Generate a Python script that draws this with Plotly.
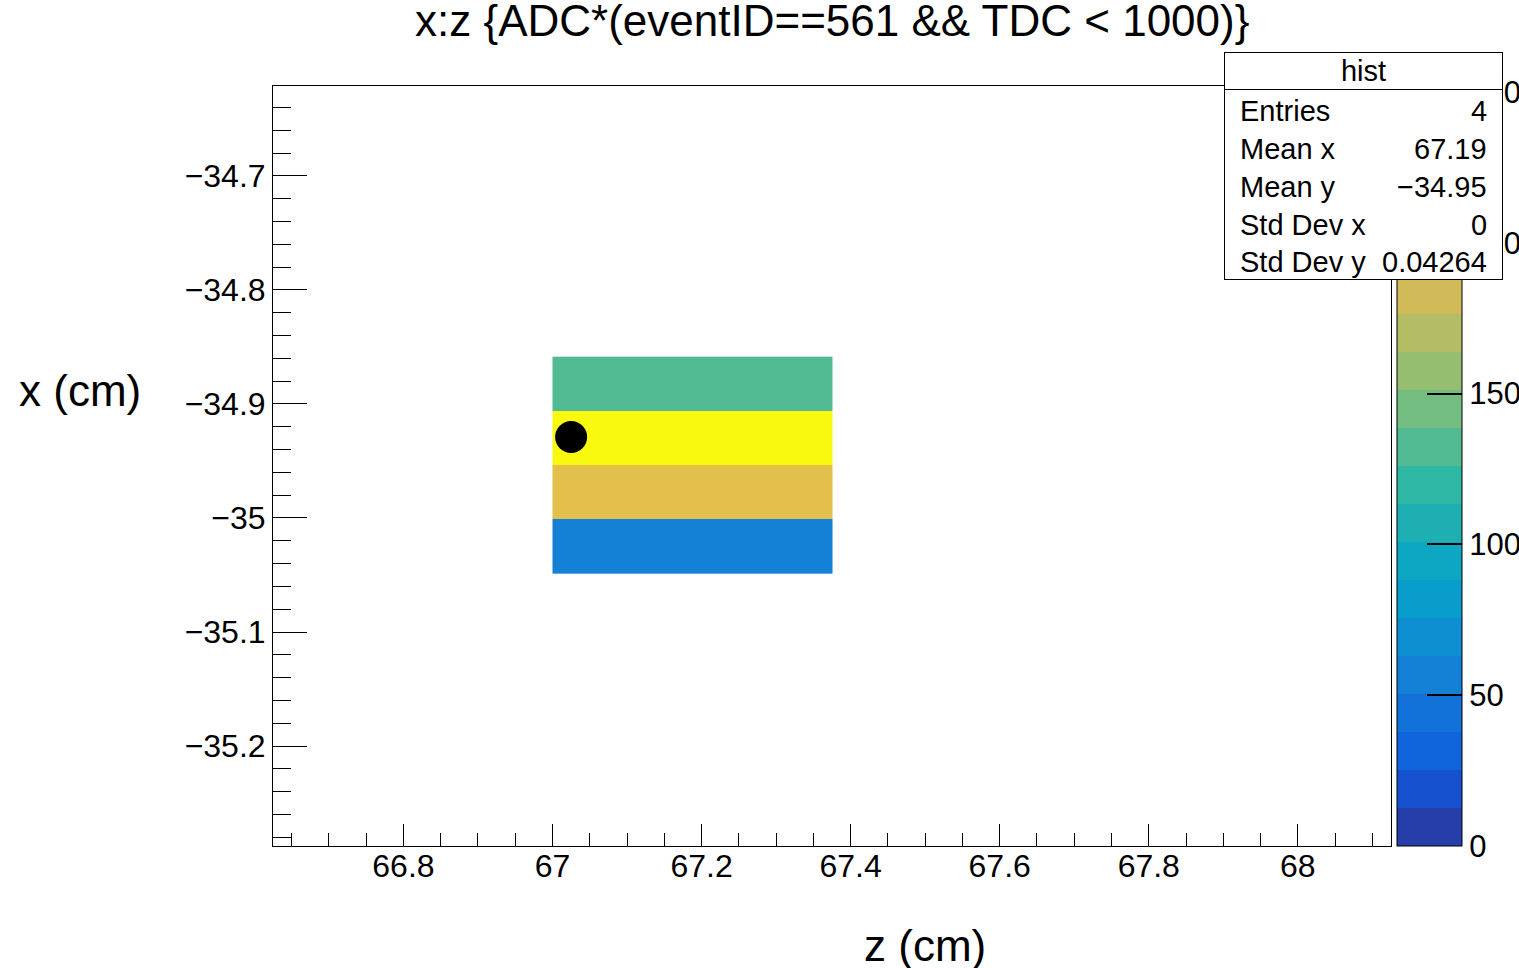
import plotly.graph_objects as go

# ---------------- data ----------------
x_edges = [67.0, 67.375]                                        # z (cm) bin edges
y_edges = [-35.0489, -35.0013, -34.9537, -34.9061, -34.8585]    # x (cm) bin edges
cell_values = [[57], [195], [252], [132]]                        # ADC sums (bottom -> top)
point_z = [67.025]
point_x = [-34.929]
z_min, z_max = 0, 252
n_levels = 20
cb_ticks = [0, 50, 100, 150, 200, 250]
stats_labels = ["Entries", "Mean x", "Mean y", "Std Dev x", "Std Dev y"]
stats_values = ["4", "67.19", "\u221234.95", "0", "0.04264"]
title_text = "x:z {ADC*(eventID==561 && TDC < 1000)}"

# ---------------- ROOT kBird palette ----------------
stops = [0.0, 0.125, 0.25, 0.375, 0.5, 0.625, 0.75, 0.875, 1.0]
red = [0.2082, 0.0592, 0.0780, 0.0232, 0.1802, 0.5301, 0.8186, 0.9956, 0.9764]
green = [0.1664, 0.3599, 0.5041, 0.6419, 0.7178, 0.7492, 0.7328, 0.7862, 0.9832]
blue = [0.5293, 0.8684, 0.8385, 0.7914, 0.6425, 0.4662, 0.3499, 0.1968, 0.0539]
NC = 255
palette = []
for g in range(1, len(stops)):
    n = int(NC * stops[g]) - int(NC * stops[g - 1])
    for c in range(n):
        palette.append((red[g-1] + c * (red[g] - red[g-1]) / n,
                        green[g-1] + c * (green[g] - green[g-1]) / n,
                        blue[g-1] + c * (blue[g] - blue[g-1]) / n))
palette.append((red[-1], green[-1], blue[-1]))


def rgb(t):
    return "rgb(%d,%d,%d)" % tuple(round(v * 255) for v in t)


colorscale = []
for i in range(n_levels):
    k = min(int((i + 0.99) * NC / n_levels), len(palette) - 1)
    col = rgb(palette[k])
    colorscale.append([i / n_levels, col])
    colorscale.append([(i + 1) / n_levels, col])

# ---------------- geometry ----------------
W, H = 1519, 968
L, R, T, B = 273, 1391, 86, 846
FONT = "Liberation Sans, Arial, Helvetica, sans-serif"


def px(xp):
    return (xp - L) / (R - L)


def py(yp):
    return (B - yp) / (B - T)


fig = go.Figure()
fig.add_trace(go.Heatmap(
    x=x_edges, y=y_edges, z=cell_values,
    zmin=z_min, zmax=z_max, colorscale=colorscale,
    zsmooth=False, hoverinfo="skip",
    colorbar=dict(
        x=px(1397), xanchor="left", xref="paper",
        y=0.5, yanchor="middle", len=1, lenmode="fraction",
        thickness=65, thicknessmode="pixels", xpad=0, ypad=0,
        outlinewidth=1, outlinecolor="black",
        tickvals=cb_ticks, ticks="inside", ticklen=35, tickwidth=2,
        tickcolor="black", tickfont=dict(family=FONT, size=31, color="black"),
    ),
))
fig.add_trace(go.Scatter(
    x=point_z, y=point_x, mode="markers",
    marker=dict(color="black", size=32), hoverinfo="skip", showlegend=False,
))

fig.update_xaxes(
    range=[66.625, 68.125], dtick=0.2, tick0=67, showgrid=False, zeroline=False,
    showline=True, linecolor="black", linewidth=1, mirror=True,
    ticks="inside", ticklen=22, tickwidth=1, tickcolor="black",
    minor=dict(dtick=0.05, tick0=67, ticks="inside", ticklen=13, tickcolor="black", showgrid=False),
    tickfont=dict(family=FONT, size=32, color="black"),
    ticklabelstandoff=-8,
)
fig.update_yaxes(
    range=[-35.2877, -34.6211], dtick=0.1, tick0=-35, showgrid=False, zeroline=False,
    showline=True, linecolor="black", linewidth=1, mirror=True,
    ticks="inside", ticklen=34, tickwidth=1, tickcolor="black",
    minor=dict(dtick=0.02, tick0=-35, ticks="inside", ticklen=18, tickcolor="black", showgrid=False),
    tickfont=dict(family=FONT, size=32, color="black"),
)

ann = []
# title
ann.append(dict(text=title_text, xref="paper", yref="paper", x=px(832), y=py(20),
                xanchor="center", yanchor="middle", showarrow=False,
                font=dict(family=FONT, size=44, color="black")))
# axis titles
ann.append(dict(text="x (cm)", xref="paper", yref="paper", x=px(80), y=py(390),
                xanchor="center", yanchor="middle", showarrow=False,
                font=dict(family=FONT, size=44, color="black")))
ann.append(dict(text="z (cm)", xref="paper", yref="paper", x=px(925), y=py(945),
                xanchor="center", yanchor="middle", showarrow=False,
                font=dict(family=FONT, size=44, color="black")))
# stats box
ann.append(dict(text=" ", xref="paper", yref="paper", x=px(1224), y=py(52),
                xanchor="left", yanchor="top", showarrow=False, width=277, height=226,
                bgcolor="white", bordercolor="black", borderwidth=1, borderpad=0,
                font=dict(family=FONT, size=29, color="black")))
ann.append(dict(text="hist", xref="paper", yref="paper", x=px(1224), y=py(52),
                xanchor="left", yanchor="top", showarrow=False, width=277, height=36,
                bgcolor="white", bordercolor="black", borderwidth=1, borderpad=0,
                font=dict(family=FONT, size=29, color="black")))
row_y = [111, 149, 187, 225, 262]
for lab, val, yy in zip(stats_labels, stats_values, row_y):
    ann.append(dict(text=lab, xref="paper", yref="paper", x=px(1238), y=py(yy),
                    xanchor="left", yanchor="middle", showarrow=False,
                    font=dict(family=FONT, size=29, color="black")))
    ann.append(dict(text=val, xref="paper", yref="paper", x=px(1489), y=py(yy),
                    xanchor="right", yanchor="middle", showarrow=False,
                    font=dict(family=FONT, size=29, color="black")))

fig.update_layout(
    width=W, height=H, margin=dict(l=L, r=W - R, t=T, b=H - B, autoexpand=False),
    paper_bgcolor="white", plot_bgcolor="white", showlegend=False,
    annotations=ann, font=dict(family=FONT, color="black"),
)

fig.write_html("out.html")
